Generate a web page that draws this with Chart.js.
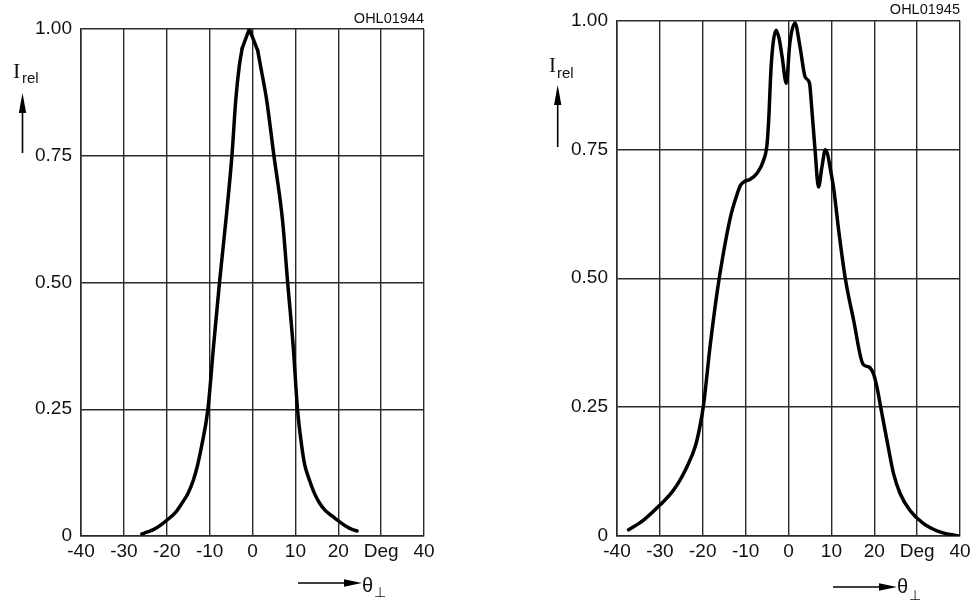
<!DOCTYPE html>
<html>
<head>
<meta charset="utf-8">
<script src="https://cdn.jsdelivr.net/npm/chart.js@4.4.1/dist/chart.umd.min.js"></script>
<style>
  html, body { margin: 0; padding: 0; background: #fff; }
  #wrap { position: relative; width: 976px; height: 601px; overflow: hidden; }
  canvas { position: absolute; top: 0; }
  svg { position: absolute; left: 0; top: 0; }
</style>
</head>
<body>
<div id="wrap">
  <canvas id="c1" width="488" height="601" style="left:0px"></canvas>
  <canvas id="c2" width="488" height="601" style="left:488px"></canvas>
  <svg width="976" height="601" viewBox="0 0 976 601">
    <!-- left chart labels -->
    <text x="424" y="23" text-anchor="end" font-family="Liberation Sans, Arial, sans-serif" font-size="14.5" fill="#111">OHL01944</text>
    <text x="13" y="78" font-family="Liberation Serif, Times New Roman, serif" font-size="22" fill="#111">I</text>
    <text x="22" y="83" font-family="Liberation Sans, Arial, sans-serif" font-size="15" fill="#111">rel</text>
    <line x1="22.5" y1="153" x2="22.5" y2="108" stroke="#000" stroke-width="1.6"/>
    <polygon points="22.5,93 18.8,113 26.2,113" fill="#000"/>
    <line x1="298" y1="583" x2="348" y2="583" stroke="#000" stroke-width="1.6"/>
    <polygon points="362,583 344,579.3 344,586.7" fill="#000"/>
    <text x="362" y="592" font-family="Liberation Sans, DejaVu Sans, sans-serif" font-size="20" fill="#111">θ</text>
    <text x="374" y="597" font-family="DejaVu Sans, Liberation Sans, sans-serif" font-size="14" fill="#111">⊥</text>
    <!-- right chart labels -->
    <text x="960" y="14" text-anchor="end" font-family="Liberation Sans, Arial, sans-serif" font-size="14.5" fill="#111">OHL01945</text>
    <text x="549" y="72" font-family="Liberation Serif, Times New Roman, serif" font-size="21" fill="#111">I</text>
    <text x="557" y="78" font-family="Liberation Sans, Arial, sans-serif" font-size="15" fill="#111">rel</text>
    <line x1="557.7" y1="147" x2="557.7" y2="100" stroke="#000" stroke-width="1.6"/>
    <polygon points="557.7,85 554,105 561.4,105" fill="#000"/>
    <line x1="833" y1="587" x2="883" y2="587" stroke="#000" stroke-width="1.6"/>
    <polygon points="897,587 879,583.3 879,590.7" fill="#000"/>
    <text x="897" y="593" font-family="Liberation Sans, DejaVu Sans, sans-serif" font-size="20" fill="#111">θ</text>
    <text x="909" y="600" font-family="DejaVu Sans, Liberation Sans, sans-serif" font-size="14" fill="#111">⊥</text>
  </svg>
</div>
<script>
// ---- data ----
const xTickValues = [-40, -30, -20, -10, 0, 10, 20, 30, 40];
const xTickLabels = ['-40', '-30', '-20', '-10', '0', '10', '20', 'Deg', '40'];
const yTickValues = [0, 0.25, 0.5, 0.75, 1];
const yTickLabels = ['0', '0.25', '0.50', '0.75', '1.00'];

const leftAngles = [-25.8, -24.5, -23, -21.5, -20, -18, -16.5, -15, -13.8, -12.8, -11.9, -10.4, -9.1, -7.7, -6.2, -4.8, -3.9, -3.1, -2.4, -0.75, 1.2, 1.9, 3.3, 5.0, 7.0, 8.2, 9.5, 10.5, 11.5, 12.2, 13.3, 14.4, 15.7, 17, 18.8, 20.5, 22, 23.2, 24.4];
const leftIntensity = [0.004, 0.008, 0.013, 0.021, 0.031, 0.046, 0.064, 0.085, 0.11, 0.14, 0.176, 0.25, 0.373, 0.5, 0.623, 0.75, 0.86, 0.926, 0.962, 1.0, 0.958, 0.926, 0.86, 0.75, 0.623, 0.5, 0.373, 0.25, 0.176, 0.14, 0.11, 0.085, 0.064, 0.05, 0.038, 0.027, 0.018, 0.013, 0.01];

const rightAngles = [-37.3, -33.8, -30, -26.8, -23.7, -21.7, -20.6, -19.8, -18.3, -16.7, -15.2, -13.5, -12.3, -11.2, -10.2, -8.9, -7.4, -5.8, -5.0, -4.6, -4.1, -3.6, -2.9, -2.2, -1.5, -0.5, 0.3, 1.5, 2.7, 3.9, 4.9, 5.4, 6.2, 7.0, 7.8, 8.6, 10.1, 10.6, 11.7, 13.2, 15.2, 17.4, 18.7, 19.8, 20.6, 21.5, 23.0, 24.5, 26.0, 28.3, 31.5, 35.3, 39.6];
const rightIntensity = [0.012, 0.031, 0.06, 0.089, 0.134, 0.175, 0.215, 0.255, 0.367, 0.47, 0.548, 0.62, 0.655, 0.68, 0.688, 0.692, 0.703, 0.729, 0.76, 0.81, 0.903, 0.955, 0.981, 0.965, 0.93, 0.878, 0.955, 0.995, 0.948, 0.89, 0.878, 0.832, 0.748, 0.677, 0.716, 0.749, 0.696, 0.67, 0.593, 0.502, 0.418, 0.333, 0.328, 0.315, 0.29, 0.25, 0.184, 0.121, 0.083, 0.05, 0.024, 0.008, 0.0];

// ---- charts ----
const FONT = "'Liberation Sans', Arial, sans-serif";
const GRID = '#2a2a2a';

function lineDataset(xs, ys, sharp) {
  return {
    data: xs.map((x, i) => ({ x: x, y: ys[i] })),
    borderColor: '#000',
    borderWidth: 3.5,
    pointRadius: 0,
    fill: false,
    tension: 0,
    cubicInterpolationMode: sharp ? 'default' : 'monotone',
    borderJoinStyle: sharp ? 'miter' : 'round',
    borderCapStyle: 'round'
  };
}

function makeChart(id, datasets, pad) {
  return new Chart(document.getElementById(id), {
    type: 'line',
    data: { datasets: datasets },
    options: {
      responsive: false,
      animation: false,
      events: [],
      layout: { padding: { left: 0, right: pad.right, top: pad.top, bottom: 0 } },
      plugins: { legend: { display: false }, tooltip: { enabled: false } },
      scales: {
        x: {
          type: 'linear', min: -40, max: 40,
          afterBuildTicks: (axis) => { axis.ticks = xTickValues.map(v => ({ value: v })); },
          ticks: {
            autoSkip: false, maxRotation: 0, padding: 4,
            color: '#111', font: { family: FONT, size: 19 },
            callback: (v) => xTickLabels[xTickValues.indexOf(v)]
          },
          grid: { color: GRID, lineWidth: 1.4, drawTicks: false },
          border: { color: GRID, width: 1.6 },
          afterFit: (axis) => { axis.height = 65; }
        },
        y: {
          type: 'linear', min: 0, max: 1,
          afterBuildTicks: (axis) => { axis.ticks = yTickValues.map(v => ({ value: v })); },
          ticks: {
            autoSkip: false, padding: 9,
            color: '#111', font: { family: FONT, size: 19 },
            callback: (v) => yTickLabels[yTickValues.indexOf(v)]
          },
          grid: { color: GRID, lineWidth: 1.4, drawTicks: false },
          border: { color: GRID, width: 1.6 },
          afterFit: (axis) => { axis.width = pad.left; }
        }
      }
    }
  });
}

// left curve has a sharp peak: smooth flanks plus a straight-sided mitred tip
const peakIdx = leftIntensity.indexOf(Math.max(...leftIntensity));
const leftRise = lineDataset(leftAngles.slice(0, peakIdx), leftIntensity.slice(0, peakIdx), false);
const leftTip = lineDataset(leftAngles.slice(peakIdx - 1, peakIdx + 2), leftIntensity.slice(peakIdx - 1, peakIdx + 2), true);
const leftFall = lineDataset(leftAngles.slice(peakIdx + 1), leftIntensity.slice(peakIdx + 1), false);

makeChart('c1', [leftRise, leftTip, leftFall], { left: 81, right: 64, top: 29 });
makeChart('c2', [lineDataset(rightAngles, rightIntensity, false)], { left: 129, right: 16, top: 20 });
</script>
</body>
</html>
